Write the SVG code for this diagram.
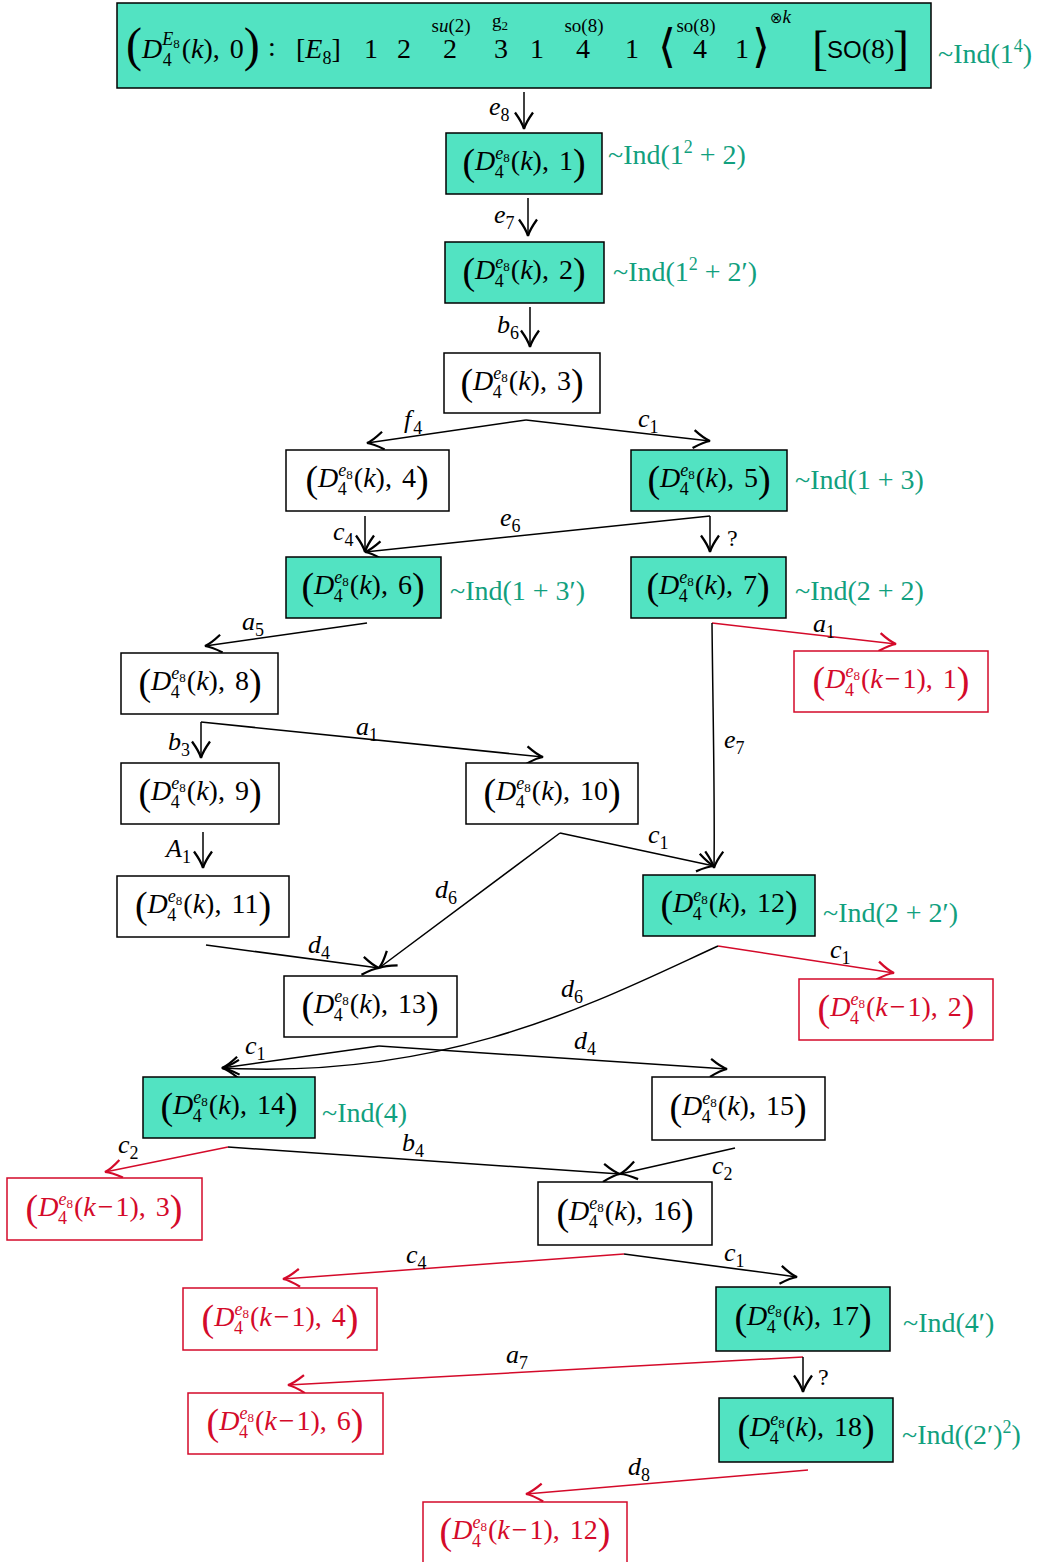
<svg xmlns="http://www.w3.org/2000/svg" width="1045" height="1562" viewBox="0 0 1045 1562">
<defs>
<style>
.box{fill:#fff;stroke:#000;stroke-width:1.5}
.hl{fill:#52E3C2;stroke:#000;stroke-width:1.5}
.rbox{fill:#fff;stroke:#D40A2A;stroke-width:1.5}
.t{font-family:"Liberation Serif",serif;font-size:28px;fill:#000}
.r{fill:#D40A2A}
.ind{font-family:"Liberation Serif",serif;font-size:28px;fill:#11A07E}
.it{font-style:italic}
.bp{font-size:38px}
.sm{font-size:18px}
.xs{font-size:13px}
.el{font-family:"Liberation Serif",serif;font-size:26px;font-style:italic;fill:#000}
.es{font-size:18px;font-style:normal}
.q{font-family:"Liberation Serif",serif;font-size:24px;fill:#000}
.ln{fill:none;stroke:#000;stroke-width:1.5;marker-end:url(#ah)}
.lr{fill:none;stroke:#D40A2A;stroke-width:1.5;marker-end:url(#ahr)}
.lab{font-family:"Liberation Serif",serif;font-size:19px;fill:#000}
</style>
<marker id="ah" markerUnits="userSpaceOnUse" markerWidth="24" markerHeight="24" viewBox="-14 -8 16 16" refX="0" refY="0" orient="auto">
<path d="M-11,-6 Q-4,-1 0,0 Q-4,1 -11,6" fill="none" stroke="#000" stroke-width="1.5"/>
</marker>
<marker id="ahr" markerUnits="userSpaceOnUse" markerWidth="24" markerHeight="24" viewBox="-14 -8 16 16" refX="0" refY="0" orient="auto">
<path d="M-11,-6 Q-4,-1 0,0 Q-4,1 -11,6" fill="none" stroke="#D40A2A" stroke-width="1.5"/>
</marker>
</defs>
<rect width="1045" height="1562" fill="#fff"/>

<g id="connectors">
<path class="ln" d="M524,92 L524,129"/>
<path class="ln" d="M528,198 L528,236"/>
<path class="ln" d="M530,307 L530,347"/>
<path class="ln" d="M526,420 L367,443"/>
<path class="ln" d="M526,420 L710,441"/>
<path class="ln" d="M365,516 L365,552"/>
<path class="ln" d="M710,516 L365,552"/>
<path class="ln" d="M710,516 L710,552"/>
<path class="ln" d="M367,623 L205,646"/>
<path class="lr" d="M712,623 L896,644"/>
<path class="ln" d="M712,623 C713,720 715,800 714,868"/>
<path class="ln" d="M201,722 L201,758"/>
<path class="ln" d="M201,722 L543,757"/>
<path class="ln" d="M203,832 L203,868"/>
<path class="ln" d="M560,833 L714,866"/>
<path class="ln" d="M560,833 L379,968"/>
<path class="ln" d="M206,945 L379,968"/>
<path class="lr" d="M718,946 L894,973"/>
<path class="ln" d="M718,946 C600,1000 450,1080 222,1068"/>
<path class="ln" d="M379,1046 L222,1068"/>
<path class="ln" d="M379,1046 L727,1069"/>
<path class="lr" d="M228,1147 L105,1172"/>
<path class="ln" d="M228,1147 L620,1174"/>
<path class="ln" d="M735,1148 L620,1174"/>
<path class="lr" d="M624,1254 L283,1279"/>
<path class="ln" d="M624,1254 L797,1277"/>
<path class="lr" d="M803,1357 L288,1385"/>
<path class="ln" d="M803,1357 L803,1392"/>
<path class="lr" d="M808,1470 L526,1494"/>

<text class="el" x="489" y="115">e<tspan class="es" dy="6">8</tspan></text>
<text class="el" x="494" y="223">e<tspan class="es" dy="6">7</tspan></text>
<text class="el" x="497" y="333">b<tspan class="es" dy="6">6</tspan></text>
<text class="el" x="404" y="428">f<tspan class="es" dx="2" dy="6">4</tspan></text>
<text class="el" x="638" y="427">c<tspan class="es" dy="6">1</tspan></text>
<text class="el" x="333" y="540">c<tspan class="es" dy="6">4</tspan></text>
<text class="el" x="500" y="526">e<tspan class="es" dy="6">6</tspan></text>
<text class="q" x="727" y="546">?</text>
<text class="el" x="242" y="630">a<tspan class="es" dy="6">5</tspan></text>
<text class="el r" x="813" y="632">a<tspan class="es" dy="6">1</tspan></text>
<text class="el" x="724" y="748">e<tspan class="es" dy="6">7</tspan></text>
<text class="el" x="168" y="750">b<tspan class="es" dy="6">3</tspan></text>
<text class="el" x="356" y="735">a<tspan class="es" dy="6">1</tspan></text>
<text class="el" x="166" y="857">A<tspan class="es" dy="6">1</tspan></text>
<text class="el" x="648" y="843">c<tspan class="es" dy="6">1</tspan></text>
<text class="el" x="435" y="898">d<tspan class="es" dy="6">6</tspan></text>
<text class="el" x="308" y="953">d<tspan class="es" dy="6">4</tspan></text>
<text class="el r" x="830" y="958">c<tspan class="es" dy="6">1</tspan></text>
<text class="el" x="561" y="997">d<tspan class="es" dy="6">6</tspan></text>
<text class="el" x="245" y="1054">c<tspan class="es" dy="6">1</tspan></text>
<text class="el" x="574" y="1049">d<tspan class="es" dy="6">4</tspan></text>
<text class="el r" x="118" y="1153">c<tspan class="es" dy="6">2</tspan></text>
<text class="el" x="402" y="1151">b<tspan class="es" dy="6">4</tspan></text>
<text class="el" x="712" y="1174">c<tspan class="es" dy="6">2</tspan></text>
<text class="el r" x="406" y="1263">c<tspan class="es" dy="6">4</tspan></text>
<text class="el" x="724" y="1261">c<tspan class="es" dy="6">1</tspan></text>
<text class="el r" x="506" y="1363">a<tspan class="es" dy="6">7</tspan></text>
<text class="q" x="818" y="1385">?</text>
<text class="el r" x="628" y="1475">d<tspan class="es" dy="6">8</tspan></text>
</g>

<g id="n0">
<rect class="hl" x="117" y="3" width="814" height="85"/>
<text class="t" x="126" y="58"><tspan style="font-size:48px" dy="3">(</tspan><tspan class="it" dy="-3">D</tspan><tspan class="sm it" dy="-13">E</tspan><tspan class="xs" dy="3">8</tspan><tspan class="sm" dx="-17" dy="18">4</tspan><tspan dx="10" dy="-8">(</tspan><tspan class="it">k</tspan>), <tspan dx="3">0</tspan><tspan style="font-size:48px" dy="3">)</tspan></text>
<text class="t" x="268" y="56">:</text>
<text class="t" x="296" y="58">[<tspan class="it">E</tspan><tspan class="sm" dy="6">8</tspan><tspan dy="-6">]</tspan></text>
<text class="t" x="371" y="58" text-anchor="middle">1</text>
<text class="t" x="404" y="58" text-anchor="middle">2</text>
<text class="t" x="450" y="58" text-anchor="middle">2</text>
<text class="lab" x="451" y="32" text-anchor="middle">s<tspan class="it">u</tspan>(2)</text>
<text class="t" x="501" y="58" text-anchor="middle">3</text>
<text class="lab" x="500" y="27" text-anchor="middle">g<tspan style="font-size:13px" dy="3">2</tspan></text>
<text class="t" x="537" y="58" text-anchor="middle">1</text>
<text class="t" x="583" y="58" text-anchor="middle">4</text>
<text class="lab" x="584" y="32" text-anchor="middle">so(8)</text>
<text class="t" x="632" y="58" text-anchor="middle">1</text>
<text x="658" y="62" style="font-family:'DejaVu Sans',sans-serif;font-size:46px;font-weight:200">⟨</text>
<text class="lab" x="696" y="32" text-anchor="middle">so(8)</text>
<text class="t" x="700" y="58" text-anchor="middle">4</text>
<text class="t" x="742" y="58" text-anchor="middle">1</text>
<text x="752" y="62" style="font-family:'DejaVu Sans',sans-serif;font-size:46px;font-weight:200">⟩</text>
<text class="lab" x="770" y="23"><tspan style="font-family:'DejaVu Sans',sans-serif;font-size:15px">⊗</tspan><tspan class="it">k</tspan></text>
<text class="t" x="812" y="64" style="font-size:48px">[</text>
<text class="t" x="827" y="58"><tspan style="font-family:'Liberation Sans',sans-serif;font-size:24px">SO</tspan>(8)</text>
<text class="t" x="893" y="64" style="font-size:48px">]</text>
<text class="ind" x="938" y="63">~Ind(1<tspan class="sm" dy="-11">4</tspan><tspan dy="11">)</tspan></text>
</g>

<g id="n1">
<rect class="hl" x="446" y="133" width="156" height="61"/>
<text class="t" x="524" y="170" text-anchor="middle"><tspan class="bp" dy="5">(</tspan><tspan class="it" dy="-5">D</tspan><tspan class="sm it" dy="-11">e</tspan><tspan class="xs" dy="3">8</tspan><tspan class="sm" dx="-15" dy="16">4</tspan><tspan dx="7" dy="-8">(</tspan><tspan class="it">k</tspan>), <tspan dx="3">1</tspan><tspan class="bp" dy="5">)</tspan></text>
<text class="ind" x="608" y="164">~Ind(1<tspan class="sm" dy="-11">2</tspan><tspan dy="11"> + 2)</tspan></text>
</g>

<g id="n2">
<rect class="hl" x="445" y="242" width="159" height="61"/>
<text class="t" x="524" y="279" text-anchor="middle"><tspan class="bp" dy="5">(</tspan><tspan class="it" dy="-5">D</tspan><tspan class="sm it" dy="-11">e</tspan><tspan class="xs" dy="3">8</tspan><tspan class="sm" dx="-15" dy="16">4</tspan><tspan dx="7" dy="-8">(</tspan><tspan class="it">k</tspan>), <tspan dx="3">2</tspan><tspan class="bp" dy="5">)</tspan></text>
<text class="ind" x="613" y="281">~Ind(1<tspan class="sm" dy="-11">2</tspan><tspan dy="11"> + 2′)</tspan></text>
</g>

<g id="n3">
<rect class="box" x="444" y="353" width="156" height="60"/>
<text class="t" x="522" y="390" text-anchor="middle"><tspan class="bp" dy="5">(</tspan><tspan class="it" dy="-5">D</tspan><tspan class="sm it" dy="-11">e</tspan><tspan class="xs" dy="3">8</tspan><tspan class="sm" dx="-15" dy="16">4</tspan><tspan dx="7" dy="-8">(</tspan><tspan class="it">k</tspan>), <tspan dx="3">3</tspan><tspan class="bp" dy="5">)</tspan></text>
</g>

<g id="n4">
<rect class="box" x="286" y="450" width="163" height="61"/>
<text class="t" x="367" y="487" text-anchor="middle"><tspan class="bp" dy="5">(</tspan><tspan class="it" dy="-5">D</tspan><tspan class="sm it" dy="-11">e</tspan><tspan class="xs" dy="3">8</tspan><tspan class="sm" dx="-15" dy="16">4</tspan><tspan dx="7" dy="-8">(</tspan><tspan class="it">k</tspan>), <tspan dx="3">4</tspan><tspan class="bp" dy="5">)</tspan></text>
</g>

<g id="n5">
<rect class="hl" x="631" y="450" width="156" height="61"/>
<text class="t" x="709" y="487" text-anchor="middle"><tspan class="bp" dy="5">(</tspan><tspan class="it" dy="-5">D</tspan><tspan class="sm it" dy="-11">e</tspan><tspan class="xs" dy="3">8</tspan><tspan class="sm" dx="-15" dy="16">4</tspan><tspan dx="7" dy="-8">(</tspan><tspan class="it">k</tspan>), <tspan dx="3">5</tspan><tspan class="bp" dy="5">)</tspan></text>
<text class="ind" x="795" y="489">~Ind(1 + 3)</text>
</g>

<g id="n6">
<rect class="hl" x="286" y="557" width="155" height="61"/>
<text class="t" x="363" y="594" text-anchor="middle"><tspan class="bp" dy="5">(</tspan><tspan class="it" dy="-5">D</tspan><tspan class="sm it" dy="-11">e</tspan><tspan class="xs" dy="3">8</tspan><tspan class="sm" dx="-15" dy="16">4</tspan><tspan dx="7" dy="-8">(</tspan><tspan class="it">k</tspan>), <tspan dx="3">6</tspan><tspan class="bp" dy="5">)</tspan></text>
<text class="ind" x="450" y="600">~Ind(1 + 3′)</text>
</g>

<g id="n7">
<rect class="hl" x="631" y="557" width="155" height="61"/>
<text class="t" x="708" y="594" text-anchor="middle"><tspan class="bp" dy="5">(</tspan><tspan class="it" dy="-5">D</tspan><tspan class="sm it" dy="-11">e</tspan><tspan class="xs" dy="3">8</tspan><tspan class="sm" dx="-15" dy="16">4</tspan><tspan dx="7" dy="-8">(</tspan><tspan class="it">k</tspan>), <tspan dx="3">7</tspan><tspan class="bp" dy="5">)</tspan></text>
<text class="ind" x="795" y="600">~Ind(2 + 2)</text>
</g>

<g id="n8">
<rect class="box" x="121" y="653" width="157" height="61"/>
<text class="t" x="200" y="690" text-anchor="middle"><tspan class="bp" dy="5">(</tspan><tspan class="it" dy="-5">D</tspan><tspan class="sm it" dy="-11">e</tspan><tspan class="xs" dy="3">8</tspan><tspan class="sm" dx="-15" dy="16">4</tspan><tspan dx="7" dy="-8">(</tspan><tspan class="it">k</tspan>), <tspan dx="3">8</tspan><tspan class="bp" dy="5">)</tspan></text>
</g>

<g id="r1">
<rect class="rbox" x="794" y="651" width="194" height="61"/>
<text class="t r" x="891" y="688" text-anchor="middle"><tspan class="bp" dy="5">(</tspan><tspan class="it" dy="-5">D</tspan><tspan class="sm it" dy="-11">e</tspan><tspan class="xs" dy="3">8</tspan><tspan class="sm" dx="-15" dy="16">4</tspan><tspan dx="7" dy="-8">(</tspan><tspan class="it">k</tspan><tspan dx="2">−</tspan><tspan dx="2">1), </tspan><tspan dx="3">1</tspan><tspan class="bp" dy="5">)</tspan></text>
</g>

<g id="n9">
<rect class="box" x="121" y="763" width="158" height="61"/>
<text class="t" x="200" y="800" text-anchor="middle"><tspan class="bp" dy="5">(</tspan><tspan class="it" dy="-5">D</tspan><tspan class="sm it" dy="-11">e</tspan><tspan class="xs" dy="3">8</tspan><tspan class="sm" dx="-15" dy="16">4</tspan><tspan dx="7" dy="-8">(</tspan><tspan class="it">k</tspan>), <tspan dx="3">9</tspan><tspan class="bp" dy="5">)</tspan></text>
</g>

<g id="n10">
<rect class="box" x="466" y="763" width="172" height="61"/>
<text class="t" x="552" y="800" text-anchor="middle"><tspan class="bp" dy="5">(</tspan><tspan class="it" dy="-5">D</tspan><tspan class="sm it" dy="-11">e</tspan><tspan class="xs" dy="3">8</tspan><tspan class="sm" dx="-15" dy="16">4</tspan><tspan dx="7" dy="-8">(</tspan><tspan class="it">k</tspan>), <tspan dx="3">10</tspan><tspan class="bp" dy="5">)</tspan></text>
</g>

<g id="n11">
<rect class="box" x="117" y="876" width="172" height="61"/>
<text class="t" x="203" y="913" text-anchor="middle"><tspan class="bp" dy="5">(</tspan><tspan class="it" dy="-5">D</tspan><tspan class="sm it" dy="-11">e</tspan><tspan class="xs" dy="3">8</tspan><tspan class="sm" dx="-15" dy="16">4</tspan><tspan dx="7" dy="-8">(</tspan><tspan class="it">k</tspan>), <tspan dx="3">11</tspan><tspan class="bp" dy="5">)</tspan></text>
</g>

<g id="n12">
<rect class="hl" x="643" y="875" width="172" height="61"/>
<text class="t" x="729" y="912" text-anchor="middle"><tspan class="bp" dy="5">(</tspan><tspan class="it" dy="-5">D</tspan><tspan class="sm it" dy="-11">e</tspan><tspan class="xs" dy="3">8</tspan><tspan class="sm" dx="-15" dy="16">4</tspan><tspan dx="7" dy="-8">(</tspan><tspan class="it">k</tspan>), <tspan dx="3">12</tspan><tspan class="bp" dy="5">)</tspan></text>
<text class="ind" x="823" y="922">~Ind(2 + 2′)</text>
</g>

<g id="n13">
<rect class="box" x="284" y="976" width="173" height="61"/>
<text class="t" x="370" y="1013" text-anchor="middle"><tspan class="bp" dy="5">(</tspan><tspan class="it" dy="-5">D</tspan><tspan class="sm it" dy="-11">e</tspan><tspan class="xs" dy="3">8</tspan><tspan class="sm" dx="-15" dy="16">4</tspan><tspan dx="7" dy="-8">(</tspan><tspan class="it">k</tspan>), <tspan dx="3">13</tspan><tspan class="bp" dy="5">)</tspan></text>
</g>

<g id="r2">
<rect class="rbox" x="799" y="979" width="194" height="61"/>
<text class="t r" x="896" y="1016" text-anchor="middle"><tspan class="bp" dy="5">(</tspan><tspan class="it" dy="-5">D</tspan><tspan class="sm it" dy="-11">e</tspan><tspan class="xs" dy="3">8</tspan><tspan class="sm" dx="-15" dy="16">4</tspan><tspan dx="7" dy="-8">(</tspan><tspan class="it">k</tspan><tspan dx="2">−</tspan><tspan dx="2">1), </tspan><tspan dx="3">2</tspan><tspan class="bp" dy="5">)</tspan></text>
</g>

<g id="n14">
<rect class="hl" x="143" y="1077" width="172" height="61"/>
<text class="t" x="229" y="1114" text-anchor="middle"><tspan class="bp" dy="5">(</tspan><tspan class="it" dy="-5">D</tspan><tspan class="sm it" dy="-11">e</tspan><tspan class="xs" dy="3">8</tspan><tspan class="sm" dx="-15" dy="16">4</tspan><tspan dx="7" dy="-8">(</tspan><tspan class="it">k</tspan>), <tspan dx="3">14</tspan><tspan class="bp" dy="5">)</tspan></text>
<text class="ind" x="322" y="1122">~Ind(4)</text>
</g>

<g id="n15">
<rect class="box" x="652" y="1077" width="173" height="63"/>
<text class="t" x="738" y="1115" text-anchor="middle"><tspan class="bp" dy="5">(</tspan><tspan class="it" dy="-5">D</tspan><tspan class="sm it" dy="-11">e</tspan><tspan class="xs" dy="3">8</tspan><tspan class="sm" dx="-15" dy="16">4</tspan><tspan dx="7" dy="-8">(</tspan><tspan class="it">k</tspan>), <tspan dx="3">15</tspan><tspan class="bp" dy="5">)</tspan></text>
</g>

<g id="r3">
<rect class="rbox" x="7" y="1178" width="195" height="62"/>
<text class="t r" x="104" y="1216" text-anchor="middle"><tspan class="bp" dy="5">(</tspan><tspan class="it" dy="-5">D</tspan><tspan class="sm it" dy="-11">e</tspan><tspan class="xs" dy="3">8</tspan><tspan class="sm" dx="-15" dy="16">4</tspan><tspan dx="7" dy="-8">(</tspan><tspan class="it">k</tspan><tspan dx="2">−</tspan><tspan dx="2">1), </tspan><tspan dx="3">3</tspan><tspan class="bp" dy="5">)</tspan></text>
</g>

<g id="n16">
<rect class="box" x="538" y="1182" width="174" height="63"/>
<text class="t" x="625" y="1220" text-anchor="middle"><tspan class="bp" dy="5">(</tspan><tspan class="it" dy="-5">D</tspan><tspan class="sm it" dy="-11">e</tspan><tspan class="xs" dy="3">8</tspan><tspan class="sm" dx="-15" dy="16">4</tspan><tspan dx="7" dy="-8">(</tspan><tspan class="it">k</tspan>), <tspan dx="3">16</tspan><tspan class="bp" dy="5">)</tspan></text>
</g>

<g id="r4">
<rect class="rbox" x="183" y="1288" width="194" height="62"/>
<text class="t r" x="280" y="1326" text-anchor="middle"><tspan class="bp" dy="5">(</tspan><tspan class="it" dy="-5">D</tspan><tspan class="sm it" dy="-11">e</tspan><tspan class="xs" dy="3">8</tspan><tspan class="sm" dx="-15" dy="16">4</tspan><tspan dx="7" dy="-8">(</tspan><tspan class="it">k</tspan><tspan dx="2">−</tspan><tspan dx="2">1), </tspan><tspan dx="3">4</tspan><tspan class="bp" dy="5">)</tspan></text>
</g>

<g id="n17">
<rect class="hl" x="716" y="1287" width="174" height="64"/>
<text class="t" x="803" y="1325" text-anchor="middle"><tspan class="bp" dy="5">(</tspan><tspan class="it" dy="-5">D</tspan><tspan class="sm it" dy="-11">e</tspan><tspan class="xs" dy="3">8</tspan><tspan class="sm" dx="-15" dy="16">4</tspan><tspan dx="7" dy="-8">(</tspan><tspan class="it">k</tspan>), <tspan dx="3">17</tspan><tspan class="bp" dy="5">)</tspan></text>
<text class="ind" x="903" y="1332">~Ind(4′)</text>
</g>

<g id="r6">
<rect class="rbox" x="188" y="1393" width="195" height="61"/>
<text class="t r" x="285" y="1430" text-anchor="middle"><tspan class="bp" dy="5">(</tspan><tspan class="it" dy="-5">D</tspan><tspan class="sm it" dy="-11">e</tspan><tspan class="xs" dy="3">8</tspan><tspan class="sm" dx="-15" dy="16">4</tspan><tspan dx="7" dy="-8">(</tspan><tspan class="it">k</tspan><tspan dx="2">−</tspan><tspan dx="2">1), </tspan><tspan dx="3">6</tspan><tspan class="bp" dy="5">)</tspan></text>
</g>

<g id="n18">
<rect class="hl" x="719" y="1398" width="174" height="64"/>
<text class="t" x="806" y="1436" text-anchor="middle"><tspan class="bp" dy="5">(</tspan><tspan class="it" dy="-5">D</tspan><tspan class="sm it" dy="-11">e</tspan><tspan class="xs" dy="3">8</tspan><tspan class="sm" dx="-15" dy="16">4</tspan><tspan dx="7" dy="-8">(</tspan><tspan class="it">k</tspan>), <tspan dx="3">18</tspan><tspan class="bp" dy="5">)</tspan></text>
<text class="ind" x="902" y="1444">~Ind((2′)<tspan class="sm" dy="-11">2</tspan><tspan dy="11">)</tspan></text>
</g>

<g id="r12">
<rect class="rbox" x="423" y="1502" width="204" height="64"/>
<text class="t r" x="525" y="1539" text-anchor="middle"><tspan class="bp" dy="5">(</tspan><tspan class="it" dy="-5">D</tspan><tspan class="sm it" dy="-11">e</tspan><tspan class="xs" dy="3">8</tspan><tspan class="sm" dx="-15" dy="16">4</tspan><tspan dx="7" dy="-8">(</tspan><tspan class="it">k</tspan><tspan dx="2">−</tspan><tspan dx="2">1), </tspan><tspan dx="3">12</tspan><tspan class="bp" dy="5">)</tspan></text>
</g>
</svg>
